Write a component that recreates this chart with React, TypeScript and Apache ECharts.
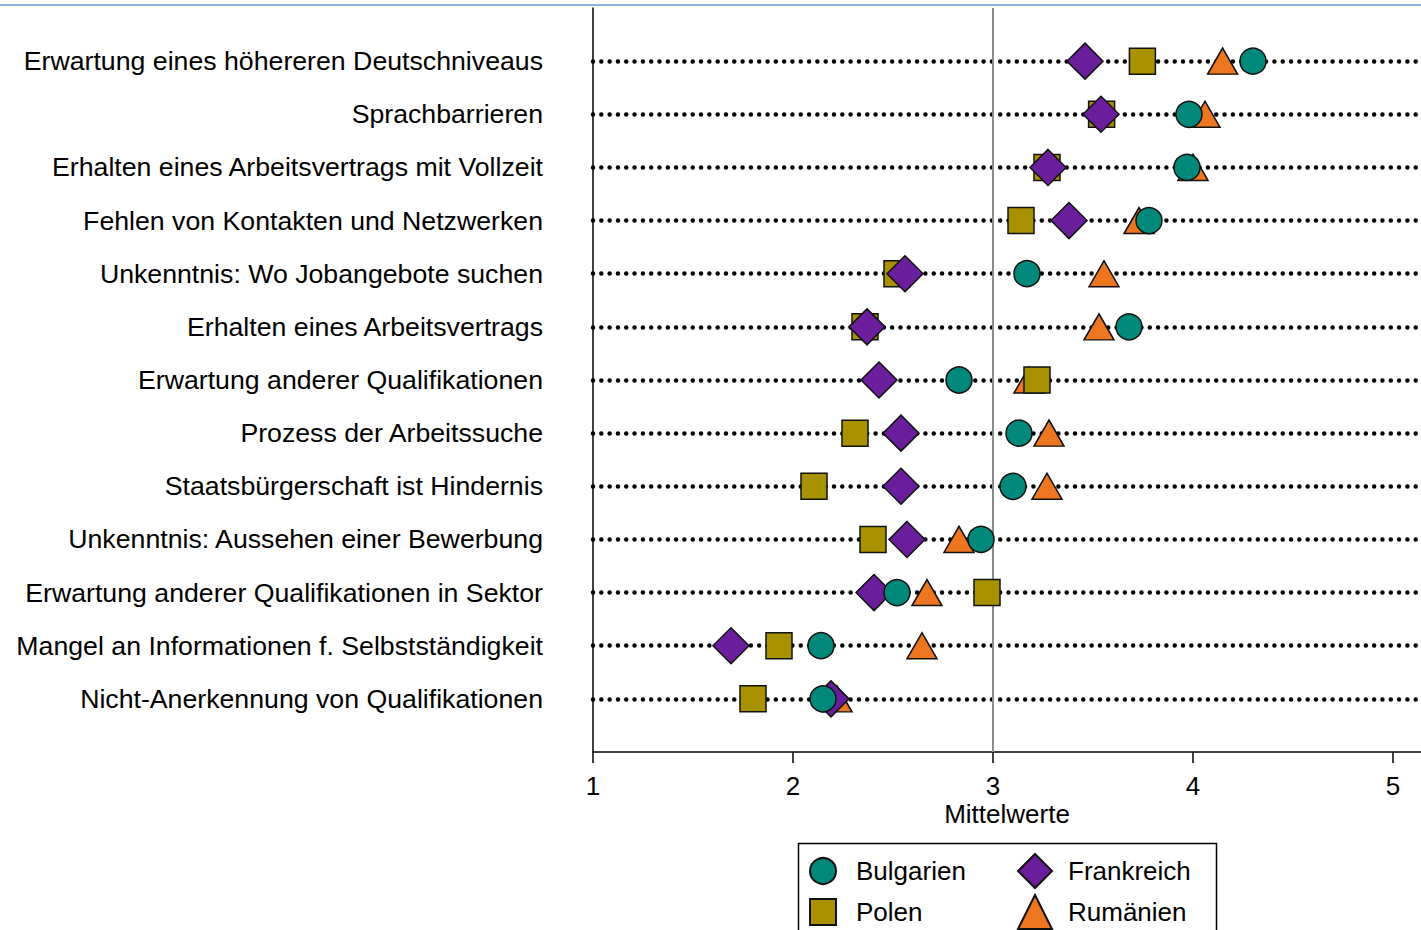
import React, { useEffect, useRef } from "react";
import * as echarts from "echarts";

const categories = [
  "Erwartung eines höhereren Deutschniveaus",
  "Sprachbarrieren",
  "Erhalten eines Arbeitsvertrags mit Vollzeit",
  "Fehlen von Kontakten und Netzwerken",
  "Unkenntnis: Wo Jobangebote suchen",
  "Erhalten eines Arbeitsvertrags",
  "Erwartung anderer Qualifikationen",
  "Prozess der Arbeitssuche",
  "Staatsbürgerschaft ist Hindernis",
  "Unkenntnis: Aussehen einer Bewerbung",
  "Erwartung anderer Qualifikationen in Sektor",
  "Mangel an Informationen f. Selbstständigkeit",
  "Nicht-Anerkennung von Qualifikationen",
];

const bulgarien = [4.3, 3.98, 3.97, 3.78, 3.17, 3.68, 2.83, 3.13, 3.1, 2.94, 2.52, 2.14, 2.15];
const frankreich = [3.46, 3.54, 3.275, 3.38, 2.56, 2.37, 2.43, 2.54, 2.54, 2.57, 2.405, 1.69, 2.19];
const polen = [3.747, 3.543, 3.27, 3.14, 2.52, 2.36, 3.22, 2.31, 2.105, 2.4, 2.97, 1.93, 1.8];
const rumaenien = [4.148, 4.06, 4.0, 3.73, 3.555, 3.53, 3.18, 3.28, 3.27, 2.83, 2.67, 2.645, 2.22];

const xTicks = [1, 2, 3, 4, 5];

const FONT = "'Liberation Sans', Arial, sans-serif";

const toPoints = (vals: number[]) => vals.map((v, i) => [v, i]);

export default function App() {
  const ref = useRef<HTMLDivElement>(null);
  useEffect(() => {
    document.body.style.margin = "0";
    const chart = echarts.init(ref.current!, null, { renderer: "svg" });
    const border = { borderColor: "#111", borderWidth: 1.5, opacity: 1 };
    chart.setOption({
      animation: false,
      textStyle: { fontFamily: FONT },
      grid: { left: 593, right: 0, top: 8, bottom: 178 },
      xAxis: {
        type: "value",
        min: 1,
        max: 5.14,
        interval: 1,
        name: "Mittelwerte",
        nameLocation: "middle",
        nameGap: 49,
        nameMoveOverlap: false,
        nameTextStyle: { fontSize: 26, color: "#000", fontFamily: FONT },
        axisLine: { show: true, onZero: false, lineStyle: { color: "#000", width: 1.5 } },
        axisTick: { show: true, length: 11, customValues: xTicks, lineStyle: { color: "#000", width: 1.5 } },
        axisLabel: { customValues: xTicks, fontSize: 26, color: "#000", margin: 21, fontFamily: FONT },
        splitLine: { show: false },
      },
      yAxis: {
        type: "value",
        min: -1,
        max: 13,
        interval: 1,
        inverse: true,
        axisLine: { show: true, onZero: false, lineStyle: { color: "#000", width: 1.5 } },
        axisTick: { show: false },
        axisLabel: {
          fontSize: 26.7,
          color: "#000",
          margin: 50,
          fontFamily: FONT,
          formatter: (v: number) => categories[v] ?? "",
        },
        splitLine: {
          show: true,
          showMinLine: false,
          showMaxLine: false,
          lineStyle: { color: "#000", width: 4.5, type: [0.01, 8.3], cap: "round" },
        },
      },
      legend: [
        {
          data: ["Bulgarien", "Polen"],
          orient: "vertical",
          left: 804,
          top: 852,
          height: 200,
          itemWidth: 26,
          itemHeight: 26,
          itemGap: 13,
          textStyle: { fontSize: 26, color: "#000", lineHeight: 26, padding: [0, 0, 0, 15], fontFamily: FONT },
          selectedMode: false,
        },
        {
          data: ["Frankreich", "Rumänien"],
          orient: "vertical",
          left: 1012,
          top: 848,
          height: 200,
          itemWidth: 34,
          itemHeight: 34,
          itemGap: 5,
          textStyle: { fontSize: 26, color: "#000", lineHeight: 26, padding: [0, 0, 0, 11], fontFamily: FONT },
          selectedMode: false,
        },
      ],
      graphic: [
        {
          type: "line",
          shape: { x1: 0, y1: 5, x2: 1421, y2: 5 },
          style: { stroke: "#5b9bd5", lineWidth: 1.5 },
        },
        {
          type: "rect",
          shape: { x: 798.5, y: 843.5, width: 418, height: 120 },
          style: { fill: "none", stroke: "#000", lineWidth: 1.5 },
        },
      ],
      series: [
        {
          name: "Rumänien",
          type: "scatter",
          symbol: "triangle",
          symbolSize: [30, 26],
          itemStyle: { color: "#ee7621", ...border },
          data: toPoints(rumaenien),
          markLine: {
            z: 1,
            silent: true,
            symbol: "none",
            label: { show: false },
            lineStyle: { color: "#8c8c8c", width: 2, type: "solid" },
            data: [{ xAxis: 3 }],
          },
        },
        {
          name: "Polen",
          type: "scatter",
          symbol: "rect",
          symbolSize: 26,
          itemStyle: { color: "#a89200", ...border },
          data: toPoints(polen),
        },
        {
          name: "Frankreich",
          type: "scatter",
          symbol: "diamond",
          symbolSize: [36, 36],
          itemStyle: { color: "#6b1e9c", ...border },
          data: toPoints(frankreich),
        },
        {
          name: "Bulgarien",
          type: "scatter",
          symbol: "circle",
          symbolSize: 26,
          itemStyle: { color: "#00897b", ...border },
          data: toPoints(bulgarien),
        },
      ],
    });
    return () => chart.dispose();
  }, []);
  return <div ref={ref} style={{ width: 1421, height: 930 }} />;
}
